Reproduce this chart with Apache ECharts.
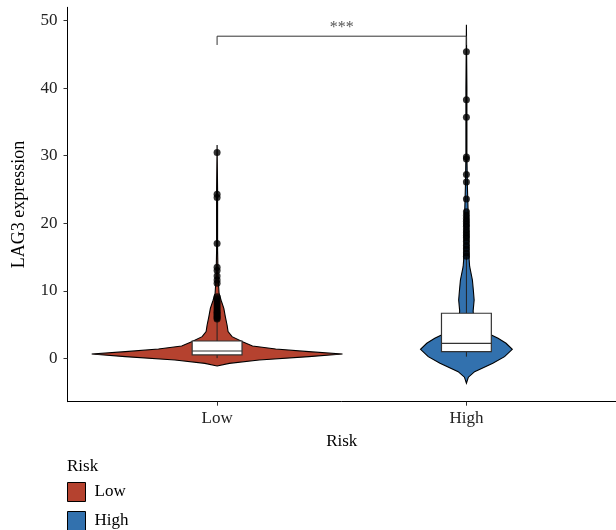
<!DOCTYPE html>
<html>
<head>
<meta charset="utf-8">
<script src="https://cdn.jsdelivr.net/npm/echarts@6/dist/echarts.min.js"></script>
<style>
html,body{margin:0;padding:0;background:#fff;}
#chart{width:616px;height:530px;}
</style>
</head>
<body>
<div id="chart"></div>
<script>
// ---- data ----
const categories = ['Low', 'High'];
const yTicks = [0, 10, 20, 30, 40, 50];
const colors = ['#B5422F', '#3271AE'];

// violin density profiles: value levels and half widths (in category units)
const lowDensityY = [-1.14, -0.75, -0.25, 0.24, 0.64, 0.98, 1.38, 1.82, 2.46, 3.2, 3.95, 4.93, 6.17, 7.4, 8.6, 9.6, 12, 16, 20, 25, 31.6];
const lowDensityW = [0, 0.049, 0.169, 0.368, 0.503, 0.368, 0.235, 0.142, 0.102, 0.060, 0.044, 0.040, 0.033, 0.027, 0.016, 0.008, 0.004, 0.002, 0.002, 0.002, 0];
const highDensityY = [-3.7, -2.8, -1.98, -0.74, 0.24, 1.33, 2.22, 2.96, 3.45, 4.19, 5.0, 5.67, 7.0, 8.64, 10.0, 11.6, 13.6, 14.6, 16.5, 19.5, 22, 25.4, 30, 40, 49.4];
const highDensityW = [0, 0.008, 0.033, 0.106, 0.153, 0.184, 0.159, 0.127, 0.10, 0.07, 0.045, 0.03, 0.027, 0.031, 0.028, 0.024, 0.013, 0.011, 0.010, 0.009, 0.0066, 0.004, 0.002, 0.002, 0];

// box stats: [lower whisker, q1, median, q3, upper whisker]
const lowBox = [0.02, 0.49, 1.08, 2.56, 5.6];
const highBox = [0.24, 0.98, 2.22, 6.67, 15.0];

// outliers
const lowOutliers = [30.46, 24.3, 23.8, 17.0, 13.5, 13.0, 12.2, 11.6, 11.1, 9.1, 8.8, 8.5, 8.2, 7.9, 7.6, 7.3, 7.0, 6.8, 6.6, 6.4, 6.2, 6.0, 5.8];
const highOutliers = [45.4, 38.3, 35.7, 29.8, 29.5, 27.2, 26.1, 23.6, 21.7, 21.2, 20.7, 20.3, 19.9, 19.5, 19.0, 18.6, 18.2, 17.8, 17.3, 16.7, 16.2, 15.6, 15.1];

// significance bracket: [x1, x2, barY, footY, labelY]
const bracket = [1, 2, 47.7, 46.4, 48.9];
const signifLabel = '***';

// ---- chart ----
const FONT = 'Liberation Serif';
const chart = echarts.init(document.getElementById('chart'), null, {renderer: 'canvas'});

function violinSeries(name, idx, ys, ws) {
  return {
    name: name,
    type: 'custom',
    itemStyle: {color: colors[idx]},
    data: [[idx + 1, 0]],
    z: 2,
    renderItem: function (params, api) {
      const c = api.value(0);
      const pts = [];
      for (let i = 0; i < ys.length; i++) pts.push(api.coord([c + ws[i], ys[i]]));
      for (let i = ys.length - 1; i >= 0; i--) pts.push(api.coord([c - ws[i], ys[i]]));
      return {type: 'polygon', shape: {points: pts}, style: {fill: colors[idx], stroke: '#000', lineWidth: 1.1}};
    }
  };
}

const boxHalf = 0.1;
const boxSeries = {
  type: 'custom',
  z: 3,
  data: [[1].concat(lowBox), [2].concat(highBox)],
  renderItem: function (params, api) {
    const x = api.value(0);
    const mn = api.value(1), q1 = api.value(2), md = api.value(3), q3 = api.value(4), mx = api.value(5);
    const pMin = api.coord([x, mn]), pMax = api.coord([x, mx]);
    const tl = api.coord([x - boxHalf, q3]), br = api.coord([x + boxHalf, q1]);
    const mL = api.coord([x - boxHalf, md]), mR = api.coord([x + boxHalf, md]);
    return {
      type: 'group',
      children: [
        {type: 'line', shape: {x1: pMin[0], y1: pMin[1], x2: pMax[0], y2: pMax[1]}, style: {stroke: '#222', lineWidth: 1}},
        {type: 'rect', shape: {x: tl[0], y: tl[1], width: br[0] - tl[0], height: br[1] - tl[1]}, style: {fill: '#fff', stroke: '#333', lineWidth: 1.2}},
        {type: 'line', shape: {x1: mL[0], y1: mL[1], x2: mR[0], y2: mR[1]}, style: {stroke: '#333', lineWidth: 1.2}}
      ]
    };
  }
};

const bracketSeries = {
  type: 'custom',
  z: 4,
  data: [bracket],
  renderItem: function (params, api) {
    const x1 = api.value(0), x2 = api.value(1), yb = api.value(2), yf = api.value(3), yl = api.value(4);
    const a = api.coord([x1, yf]), b = api.coord([x1, yb]), c = api.coord([x2, yb]), d = api.coord([x2, yf]);
    const t = api.coord([(x1 + x2) / 2, yl]);
    return {
      type: 'group',
      children: [
        {type: 'polyline', shape: {points: [a, b, c, d]}, style: {stroke: '#333', lineWidth: 1, fill: null}},
        {type: 'text', x: t[0], y: t[1], style: {text: signifLabel, fill: '#555', font: '16px ' + FONT, align: 'center', verticalAlign: 'middle'}}
      ]
    };
  }
};

const pts = lowOutliers.map(v => [1, v]).concat(highOutliers.map(v => [2, v]));

chart.setOption({
  animation: false,
  backgroundColor: '#fff',
  textStyle: {fontFamily: FONT},
  title: {
    text: 'Risk', left: 62, top: 453,
    textStyle: {fontFamily: FONT, fontSize: 17, fontWeight: 'normal', color: '#000'}
  },
  legend: {
    data: categories,
    orient: 'vertical',
    left: 67, top: 482,
    height: 100,
    padding: 0,
    icon: 'rect',
    itemWidth: 18, itemHeight: 19,
    itemGap: 9,
    itemStyle: {borderColor: '#000', borderWidth: 1},
    textStyle: {fontFamily: FONT, fontSize: 17, color: '#000', padding: [0, 0, 0, 4]}
  },
  grid: {left: 67.5, top: 7.3, width: 552, height: 394.4, containLabel: false},
  xAxis: {
    type: 'value',
    min: 0.4, max: 2.6,
    name: 'Risk', nameLocation: 'middle', nameGap: 31,
    nameTextStyle: {fontFamily: FONT, fontSize: 17, color: '#000'},
    splitLine: {show: false},
    axisLine: {show: true, onZero: false, lineStyle: {color: '#000', width: 1}},
    axisTick: {show: true, customValues: [1, 2], length: 4, lineStyle: {color: '#333'}},
    axisLabel: {
      customValues: [1, 2], margin: 8,
      formatter: v => categories[Math.round(v) - 1],
      fontFamily: FONT, fontSize: 17, color: '#222'
    }
  },
  yAxis: {
    type: 'value',
    min: -6.43, max: 51.98,
    name: 'LAG3 expression', nameLocation: 'middle', nameGap: 39, nameRotate: 90,
    nameTextStyle: {fontFamily: FONT, fontSize: 18, color: '#000'},
    splitLine: {show: false},
    axisLine: {show: true, onZero: false, lineStyle: {color: '#000', width: 1}},
    axisTick: {show: true, customValues: yTicks, length: 4, lineStyle: {color: '#333'}},
    axisLabel: {customValues: yTicks, margin: 10, fontFamily: FONT, fontSize: 17, color: '#222'}
  },
  series: [
    violinSeries('Low', 0, lowDensityY, lowDensityW),
    violinSeries('High', 1, highDensityY, highDensityW),
    boxSeries,
    bracketSeries,
    {
      type: 'scatter',
      z: 5,
      symbol: 'circle',
      symbolSize: 7,
      itemStyle: {color: '#000'},
      data: pts
    }
  ]
});
</script>
</body>
</html>
